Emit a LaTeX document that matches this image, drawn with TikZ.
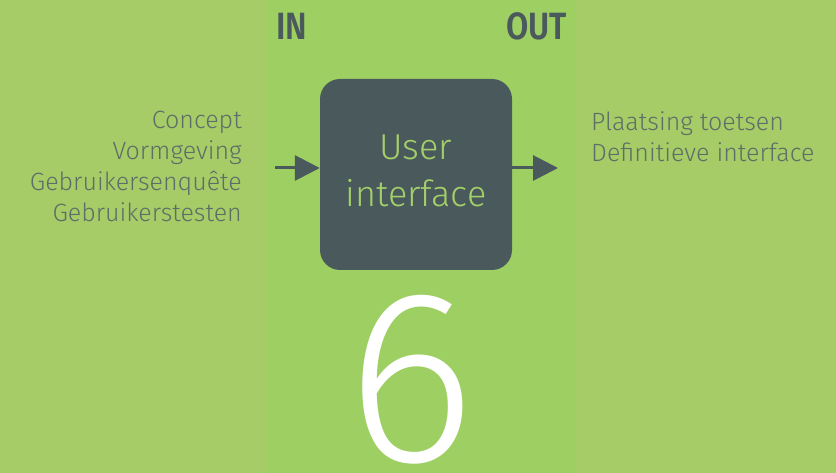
\documentclass[tikz,border=0pt]{standalone}
\usepackage{fontspec}
\setmainfont{Fira Sans}[UprightFont=* Light, BoldFont=* SemiBold]
\usetikzlibrary{arrows.meta, positioning}
\definecolor{outergreen}{HTML}{A6CC68}
\definecolor{bandgreen}{HTML}{9ECF62}
\definecolor{slate}{HTML}{4A5A5C}
\definecolor{softgreen}{HTML}{A4D06A}
\definecolor{greytext}{HTML}{5E6E66}

\begin{document}
\begin{tikzpicture}[x=1pt, y=1pt,
        b/.style={rectangle, fill=slate, rounded corners=20pt,
                  minimum width=192pt, minimum height=191pt, inner sep=0pt},
        lbl/.style={text=greytext, font=\fontsize{25}{31}\selectfont, inner sep=0pt},
        hd/.style={text=slate, font=\fontsize{38}{38}\bfseries\selectfont, inner sep=0pt},
        arr/.style={-{Triangle[length=25pt,width=25pt]}, line width=3pt, slate}]
      % background and middle band
      \fill[outergreen] (0,0) rectangle (836,473);
      \fill[bandgreen] (268,0) rectangle (576,473);
      \useasboundingbox (0,0) rectangle (836,473);
      % block
      \node[b] (ui) at (416,298.5) {};
      \node[text=softgreen, align=center, font=\fontsize{36}{47}\selectfont]
        (uitxt) at ([yshift=4pt]ui.center) {User\\interface};
      % in / out
      \node[hd, anchor=base west, xscale=0.85] (in) at (276,433) {IN};
      \node[hd, anchor=base east, xscale=0.85] (out) at (567,433) {OUT};
      \coordinate (from) at (275,305);
      \coordinate (to) at (558,305);
      \draw[arr] (from) -- (ui.west |- from);
      \draw[arr] (ui.east |- to) -- (to);
      % labels
      \node[lbl, anchor=north east, align=right] (inputs) at (242,362)
        {Concept\\Vormgeving\\Gebruikersenquête\\Gebruikerstesten};
      \node[lbl, anchor=north west, align=left] (outputs) at (591,362)
        {Plaatsing toetsen\\Definitieve interface};
      % step number
      \node[text=white, font=\fontsize{246}{246}\selectfont, anchor=base, inner sep=0pt]
        (num) at (411,11) {6};
    \end{tikzpicture}
\end{document}
